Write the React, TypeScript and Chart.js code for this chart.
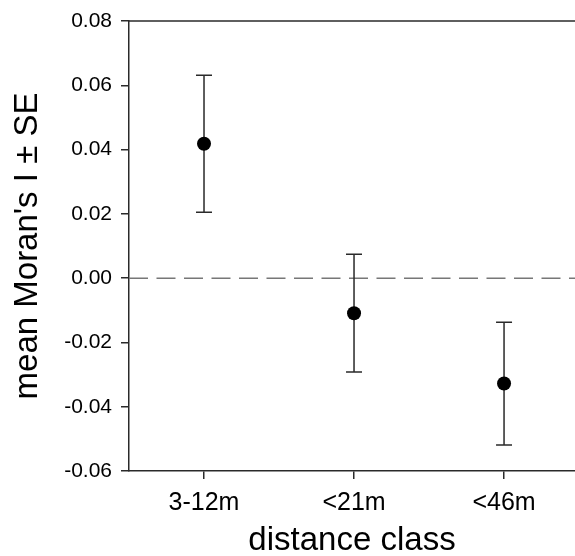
import React, { useEffect, useRef } from "react";
import { Chart, registerables } from "chart.js";

Chart.register(...registerables);

const categories = ["3-12m", "<21m", "<46m"];
const means = [0.0418, -0.0109, -0.0328];
const se = [0.0213, 0.0183, 0.0191];
const yTicks = [-0.06, -0.04, -0.02, 0.0, 0.02, 0.04, 0.06, 0.08];

const FONT = "'Liberation Sans', Arial, Helvetica, sans-serif";
const AXIS_COLOR = "#2a2a2a";

const errorBarPlugin = {
  id: "errorBars",
  beforeDatasetsDraw(chart: any) {
    const { ctx, chartArea, scales } = chart;
    const xs = scales.x;
    const ys = scales.y;
    ctx.save();
    // top border
    ctx.strokeStyle = AXIS_COLOR;
    ctx.lineWidth = 1.5;
    ctx.beginPath();
    ctx.moveTo(chartArea.left, chartArea.top);
    ctx.lineTo(chartArea.right, chartArea.top);
    ctx.stroke();
    // dashed zero line
    const y0 = ys.getPixelForValue(0);
    ctx.strokeStyle = "#777777";
    ctx.lineWidth = 1.5;
    ctx.setLineDash([19, 8.5]);
    ctx.beginPath();
    ctx.moveTo(chartArea.left, y0);
    ctx.lineTo(chartArea.right, y0);
    ctx.stroke();
    ctx.setLineDash([]);
    // error bars
    ctx.strokeStyle = AXIS_COLOR;
    ctx.lineWidth = 1.5;
    const cap = 8;
    means.forEach((m, i) => {
      const x = xs.getPixelForValue(i + 1);
      const yt = ys.getPixelForValue(m + se[i]);
      const yb = ys.getPixelForValue(m - se[i]);
      ctx.beginPath();
      ctx.moveTo(x, yt);
      ctx.lineTo(x, yb);
      ctx.moveTo(x - cap, yt);
      ctx.lineTo(x + cap, yt);
      ctx.moveTo(x - cap, yb);
      ctx.lineTo(x + cap, yb);
      ctx.stroke();
    });
    ctx.restore();
  },
};

export default function App() {
  const ref = useRef<HTMLCanvasElement | null>(null);
  useEffect(() => {
    if (!ref.current) return;
    const chart = new Chart(ref.current, {
      type: "scatter",
      data: {
        datasets: [
          {
            data: means.map((m, i) => ({ x: i + 1, y: m })),
            backgroundColor: "#000000",
            borderColor: "#000000",
            pointRadius: 7,
            pointHoverRadius: 7,
            borderWidth: 0,
          },
        ],
      },
      options: {
        responsive: false,
        animation: false,
        devicePixelRatio: 1,
        layout: { autoPadding: false, padding: { top: 21, left: 0, right: 0, bottom: 0 } },
        plugins: {
          legend: { display: false },
          tooltip: { enabled: false },
        },
        scales: {
          x: {
            type: "linear",
            min: 0.5,
            max: 3.473,
            afterBuildTicks: (scale: any) => {
              scale.ticks = categories.map((_, i) => ({ value: i + 1 }));
            },
            afterFit: (scale: any) => {
              scale.height = 85;
              scale.paddingLeft = 0;
              scale.paddingRight = 0;
            },
            ticks: {
              callback: (v: any) => categories[Math.round(Number(v)) - 1] ?? "",
              font: { family: FONT, size: 25, lineHeight: 1 },
              color: "#000000",
              padding: 12,
              maxRotation: 0,
              autoSkip: false,
            },
            grid: {
              drawOnChartArea: false,
              drawTicks: true,
              tickLength: 8,
              color: AXIS_COLOR,
              lineWidth: 1.5,
            },
            border: { display: true, color: AXIS_COLOR, width: 1.5 },
            title: {
              display: true,
              text: "distance class",
              font: { family: FONT, size: 33, lineHeight: 1 },
              color: "#000000",
              padding: { top: 0, bottom: -1 },
            },
          },
          y: {
            type: "linear",
            min: -0.06,
            max: 0.08,
            afterBuildTicks: (scale: any) => {
              scale.ticks = yTicks.map((v) => ({ value: v }));
            },
            afterFit: (scale: any) => {
              scale.width = 129;
            },
            ticks: {
              callback: (v: any) => {
                const n = Math.abs(Number(v)) < 1e-9 ? 0 : Number(v);
                return n.toFixed(2);
              },
              font: { family: FONT, size: 21, lineHeight: 1 },
              color: "#000000",
              padding: 9,
            },
            grid: {
              drawOnChartArea: false,
              drawTicks: true,
              tickLength: 8,
              color: AXIS_COLOR,
              lineWidth: 1.5,
            },
            border: { display: true, color: AXIS_COLOR, width: 1.5 },
            title: {
              display: true,
              text: "mean Moran's I ± SE",
              font: { family: FONT, size: 33, lineHeight: 1 },
              color: "#000000",
              padding: { top: 11, bottom: 0 },
            },
          },
        },
      },
      plugins: [errorBarPlugin],
    } as any);
    return () => chart.destroy();
  }, []);
  return (
    <div style={{ position: "fixed", left: 0, top: 0, width: 575, height: 556, background: "#ffffff" }}>
      <canvas ref={ref} width={575} height={556} />
    </div>
  );
}
